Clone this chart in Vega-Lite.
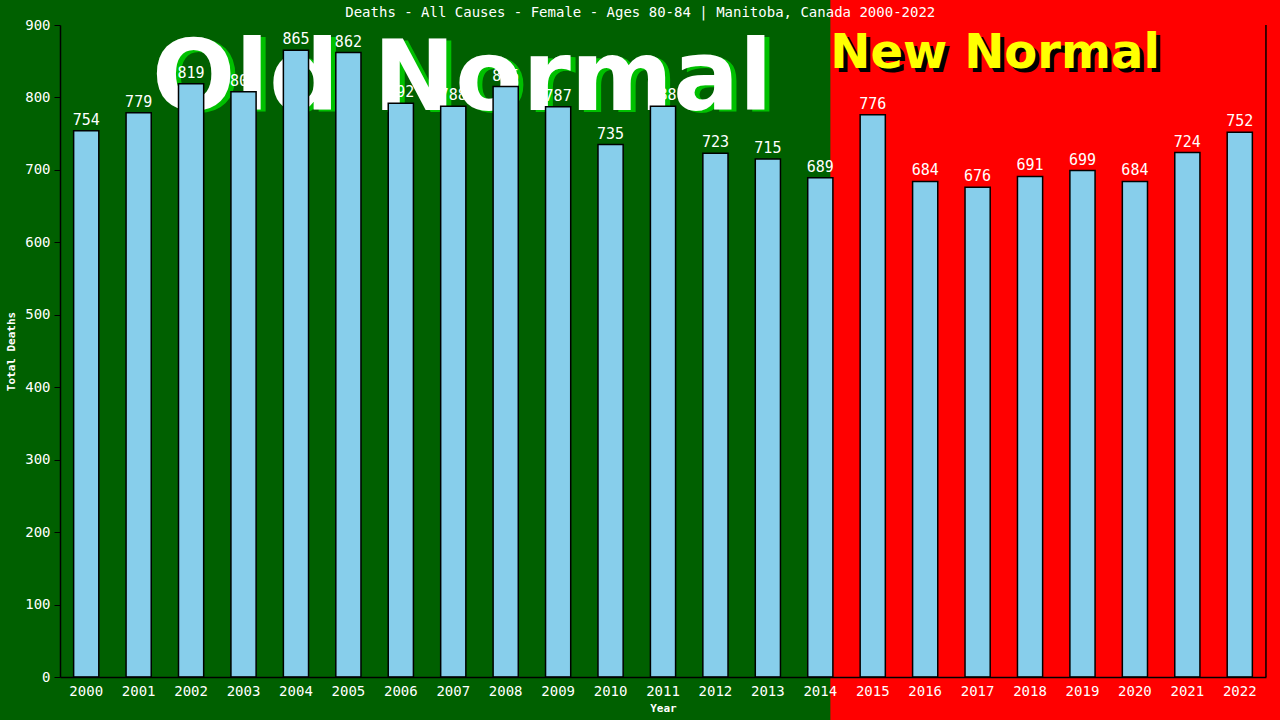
{
  "$schema": "https://vega.github.io/schema/vega-lite/v6.json",
  "width": 1206,
  "height": 652,
  "autosize": {"type": "none"},
  "padding": {"left": 60, "top": 25, "right": 14, "bottom": 43},
  "background": "#006000",
  "config": {
    "view": {"stroke": null},
    "axis": {
      "titleColor": "white",
      "titleFont": "DejaVu Sans Mono",
      "titleFontSize": 11,
      "titleFontWeight": "bold",
      "labelColor": "white",
      "labelFont": "DejaVu Sans Mono",
      "labelFontSize": 14,
      "domainColor": "black",
      "domainWidth": 1.5,
      "tickColor": "black",
      "grid": false
    },
    "axisX": {"ticks": false, "labelAngle": 0, "labelPadding": 7, "titlePadding": 4, "bandPosition": 0.5},
    "axisY": {"tickSize": 6, "labelPadding": 4, "titlePadding": 8}
  },
  "datasets": {
    "deaths": [
      {"year": "2000", "deaths": 754},
      {"year": "2001", "deaths": 779},
      {"year": "2002", "deaths": 819},
      {"year": "2003", "deaths": 808},
      {"year": "2004", "deaths": 865},
      {"year": "2005", "deaths": 862},
      {"year": "2006", "deaths": 792},
      {"year": "2007", "deaths": 788},
      {"year": "2008", "deaths": 815},
      {"year": "2009", "deaths": 787},
      {"year": "2010", "deaths": 735},
      {"year": "2011", "deaths": 788},
      {"year": "2012", "deaths": 723},
      {"year": "2013", "deaths": 715},
      {"year": "2014", "deaths": 689},
      {"year": "2015", "deaths": 776},
      {"year": "2016", "deaths": 684},
      {"year": "2017", "deaths": 676},
      {"year": "2018", "deaths": 691},
      {"year": "2019", "deaths": 699},
      {"year": "2020", "deaths": 684},
      {"year": "2021", "deaths": 724},
      {"year": "2022", "deaths": 752}
    ],
    "one": [{"n": 1}]
  },
  "layer": [
    {
      "data": {"name": "one"},
      "mark": {"type": "rect", "color": "#ff0000", "clip": false},
      "encoding": {
        "x": {"datum": "2014", "type": "ordinal", "bandPosition": 0.9},
        "x2": {"datum": "2022", "bandPosition": 2.3},
        "y": {"datum": -80, "type": "quantitative"},
        "y2": {"datum": 960}
      }
    },
    {
      "data": {"name": "deaths"},
      "mark": {"type": "bar", "opacity": 0},
      "encoding": {
        "x": {
          "field": "year",
          "type": "ordinal",
          "title": "Year",
          "scale": {"paddingInner": 0.52, "paddingOuter": 0.26},
          "axis": {"zindex": 1}
        },
        "y": {
          "field": "deaths",
          "type": "quantitative",
          "title": "Total Deaths",
          "scale": {"domain": [0, 900], "nice": false},
          "axis": {"zindex": 1, "values": [0, 100, 200, 300, 400, 500, 600, 700, 800, 900]}
        }
      }
    },
    {
      "data": {"name": "one"},
      "mark": {"type": "rule", "color": "black", "strokeWidth": 1.5},
      "encoding": {
        "x": {"datum": "2022", "type": "ordinal", "bandPosition": 1.54},
        "y": {"datum": 0, "type": "quantitative"},
        "y2": {"datum": 900}
      }
    },
    {
      "data": {"name": "one"},
      "mark": {"type": "text", "text": "Deaths - All Causes - Female - Ages 80-84 | Manitoba, Canada 2000-2022", "font": "DejaVu Sans Mono", "fontSize": 14, "color": "white", "align": "center", "baseline": "middle", "clip": false},
      "encoding": {
        "x": {"datum": "2010", "type": "ordinal", "bandPosition": 1.68},
        "y": {"datum": 916, "type": "quantitative"}
      }
    },
    {
      "data": {"name": "one"},
      "mark": {"type": "text", "text": "Old Normal", "font": "DejaVu Sans", "fontWeight": "bold", "fontSize": 98, "color": "#00c000", "align": "center", "baseline": "alphabetic", "dx": 5, "dy": 2, "clip": false},
      "encoding": {
        "x": {"datum": "2007", "type": "ordinal", "bandPosition": 0.86},
        "y": {"datum": 783, "type": "quantitative"}
      }
    },
    {
      "data": {"name": "one"},
      "mark": {"type": "text", "text": "Old Normal", "font": "DejaVu Sans", "fontWeight": "bold", "fontSize": 98, "color": "white", "align": "center", "baseline": "alphabetic", "clip": false},
      "encoding": {
        "x": {"datum": "2007", "type": "ordinal", "bandPosition": 0.86},
        "y": {"datum": 783, "type": "quantitative"}
      }
    },
    {
      "data": {"name": "one"},
      "mark": {"type": "text", "text": "New Normal", "font": "DejaVu Sans", "fontWeight": "bold", "fontSize": 48, "color": "black", "align": "left", "baseline": "alphabetic", "dx": 4, "dy": 4, "clip": false},
      "encoding": {
        "x": {"datum": "2014", "type": "ordinal", "bandPosition": 0.9},
        "y": {"datum": 841, "type": "quantitative"}
      }
    },
    {
      "data": {"name": "one"},
      "mark": {"type": "text", "text": "New Normal", "font": "DejaVu Sans", "fontWeight": "bold", "fontSize": 48, "color": "#ffff00", "align": "left", "baseline": "alphabetic", "clip": false},
      "encoding": {
        "x": {"datum": "2014", "type": "ordinal", "bandPosition": 0.9},
        "y": {"datum": 841, "type": "quantitative"}
      }
    },
    {
      "data": {"name": "deaths"},
      "mark": {"type": "bar", "fill": "#87CEEB", "stroke": "black", "strokeWidth": 1.5},
      "encoding": {
        "x": {"field": "year", "type": "ordinal"},
        "y": {"field": "deaths", "type": "quantitative"}
      }
    },
    {
      "data": {"name": "deaths"},
      "mark": {"type": "text", "color": "white", "font": "DejaVu Sans Mono", "fontSize": 15, "baseline": "alphabetic", "dy": -6, "clip": false},
      "encoding": {
        "x": {"field": "year", "type": "ordinal"},
        "y": {"field": "deaths", "type": "quantitative"},
        "text": {"field": "deaths", "type": "quantitative"}
      }
    }
  ]
}
